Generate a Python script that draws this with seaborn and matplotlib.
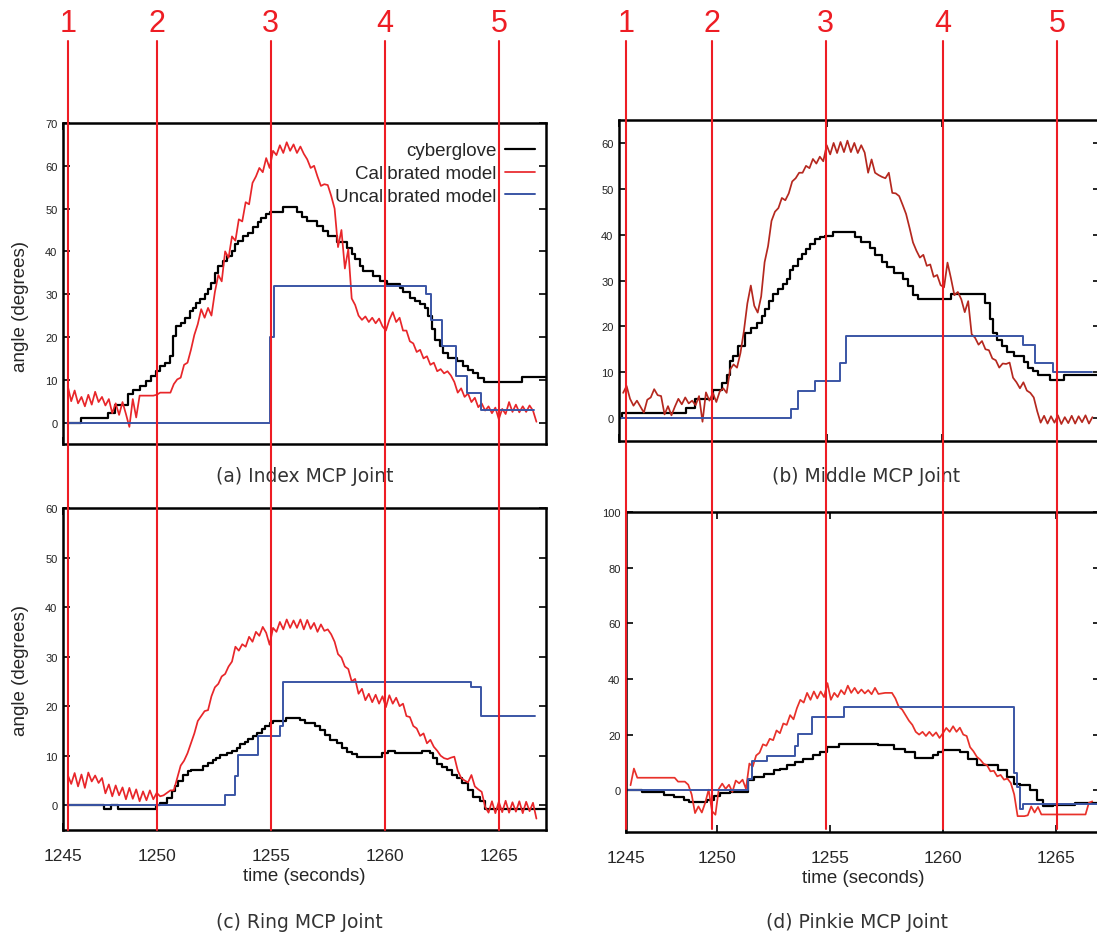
import numpy as np
import matplotlib
matplotlib.use("Agg")
import matplotlib.pyplot as plt
import seaborn as sns
from matplotlib.lines import Line2D
from matplotlib.transforms import blended_transform_factory

# ---------------- data ----------------
series_names = ["cyberglove", "Calibrated model", "Uncalibrated model"]
panel_titles = ["(a) Index MCP Joint", "(b) Middle MCP Joint",
                "(c) Ring MCP Joint", "(d) Pinkie MCP Joint"]
time_tick_labels = ["1245", "1250", "1255", "1260", "1265"]
time_ticks_inner = [1250, 1255, 1260, 1265]
event_labels = ["1", "2", "3", "4", "5"]
events_left = [1246.1, 1250.0, 1255.0, 1260.0, 1265.0]
events_right = [1246.27, 1250.0, 1254.95, 1260.04, 1265.02]
calib_step = 0.15  # sampling interval of the calibrated model traces (s)

# (a) Index
a_glove_t = [1246.07, 1246.70, 1247.86, 1248.16, 1248.74, 1248.96, 1249.25, 1249.55, 1249.77, 1249.99,
             1250.13, 1250.35, 1250.57, 1250.72, 1250.86, 1251.08, 1251.23, 1251.45, 1251.60, 1251.74,
             1251.89, 1252.11, 1252.25, 1252.40, 1252.55, 1252.69, 1252.91, 1253.06, 1253.28, 1253.42,
             1253.57, 1253.79, 1254.01, 1254.23, 1254.45, 1254.59, 1254.81, 1254.96, 1255.54, 1256.13,
             1256.35, 1256.57, 1257.01, 1257.30, 1257.52, 1257.89, 1258.33, 1258.55, 1258.69, 1258.91,
             1259.06, 1259.50, 1259.79, 1260.08, 1260.67, 1260.82, 1261.11, 1261.33, 1261.55, 1261.77,
             1261.91, 1262.06, 1262.20, 1262.42, 1262.57, 1262.79, 1263.16, 1263.45, 1263.67, 1263.89,
             1264.11, 1264.33, 1266.01, 1267.07]
a_glove_v = [0, 1.0, 2.3, 4.2, 6.6, 7.6, 8.5, 9.7, 10.8, 12.0,
             13.2, 14.0, 15.5, 20.2, 22.5, 23.3, 24.5, 26.1, 26.8, 28.0,
             28.8, 30.0, 31.1, 32.7, 35.0, 36.6, 37.8, 38.9, 40.1, 41.7,
             42.5, 43.6, 44.4, 45.6, 46.8, 47.9, 48.7, 49.2, 50.3, 49.2,
             48.0, 47.1, 46.0, 44.8, 43.6, 42.1, 40.9, 39.3, 38.2, 36.6,
             35.4, 34.3, 33.2, 32.3, 31.5, 30.4, 29.2, 28.4, 27.6, 26.8,
             24.9, 21.8, 19.4, 17.9, 16.3, 15.1, 14.4, 13.2, 12.4, 11.6,
             10.5, 9.5, 10.6, 10.6]
a_calib_t0 = 1246.10
a_calib_v = [8.5, 5.0, 7.5, 4.5, 6.0, 3.8, 6.5, 4.2, 7.2, 4.8,
             6.0, 4.0, 5.5, 2.2, 4.5, 1.8, 4.8, 2.0, -1.0, 5.5,
             1.2, 6.3, 6.3, 6.3, 6.3, 6.3, 6.5, 7.0, 7.0, 7.0,
             7.0, 9.0, 10.1, 10.5, 13.5, 14.0, 17.0, 20.5, 23.0, 26.5,
             24.5, 26.8, 25.0, 30.5, 34.5, 33.0, 40.0, 38.5, 43.5, 42.5,
             47.5, 47.0, 51.5, 51.0, 56.0, 57.5, 59.5, 58.5, 61.8, 59.5,
             63.5, 62.5, 64.8, 63.0, 65.5, 63.5, 65.0, 63.0, 64.5, 62.8,
             61.5, 59.5, 60.0, 57.5, 55.3, 55.7, 55.5, 53.0, 50.0, 41.0,
             45.0, 36.0, 40.5, 29.0, 27.5, 25.0, 24.0, 24.8, 23.5, 24.5,
             23.2, 24.3, 22.5, 21.5, 24.0, 25.8, 23.5, 24.5, 21.5, 21.5,
             19.0, 18.5, 16.5, 17.0, 15.0, 15.5, 13.5, 14.0, 12.0, 12.5,
             11.5, 12.0, 11.0, 9.5, 7.0, 8.0, 6.0, 6.8, 4.8, 5.8,
             3.6, 4.5, 2.8, 3.8, 2.2, 3.5, 0.8, 3.2, 2.0, 4.8,
             2.5, 4.2, 2.4, 3.8, 2.5, 4.0, 2.8, 0.2]
a_uncal_t = [1246.07, 1254.96, 1255.15, 1261.79, 1262.03, 1262.50, 1263.12, 1263.59, 1264.22, 1266.56]
a_uncal_v = [0, 20, 32, 30, 24, 18, 11, 7, 3, 3]

# (b) Middle
b_glove_t = [1245.97, 1246.08, 1248.90, 1249.27, 1250.07, 1250.43, 1250.65, 1250.79, 1250.93, 1251.15,
             1251.44, 1251.73, 1251.95, 1252.17, 1252.31, 1252.49, 1252.68, 1252.89, 1253.11, 1253.26,
             1253.40, 1253.55, 1253.76, 1253.91, 1254.12, 1254.27, 1254.49, 1254.70, 1254.92, 1255.28,
             1256.21, 1256.48, 1256.88, 1257.10, 1257.40, 1257.63, 1257.92, 1258.30, 1258.52, 1258.74,
             1258.97, 1260.40, 1261.87, 1262.09, 1262.24, 1262.39, 1262.61, 1262.83, 1263.13, 1263.58,
             1263.73, 1263.96, 1264.18, 1264.70, 1265.30, 1266.88]
b_glove_v = [0, 1.1, 2.2, 4.2, 6.2, 7.6, 9.4, 12.4, 13.6, 15.7,
             18.6, 19.7, 20.8, 22.3, 23.7, 25.5, 27.0, 28.1, 29.2, 30.3,
             32.2, 33.2, 34.7, 35.7, 36.8, 37.9, 39.0, 39.4, 39.7, 40.5,
             39.5, 38.5, 37.1, 35.5, 34.0, 33.0, 31.6, 30.3, 28.7, 26.8,
             25.9, 27.0, 25.0, 21.5, 18.5, 17.0, 15.7, 14.5, 13.5, 12.2,
             11.0, 10.2, 9.4, 8.4, 9.4, 9.4]
b_calib_t0 = 1246.15
b_calib_v = [5.5, 7.0, 4.2, 2.7, 3.8, 2.5, 1.2, 4.0, 4.5, 6.3,
             5.0, 4.8, 0.8, 2.6, 0.6, 2.5, 4.2, 3.0, 4.5, 3.2,
             3.8, 2.8, 4.8, -0.8, 5.6, 3.8, 5.5, 3.5, 5.8, 6.5,
             5.5, 10.6, 11.7, 11.0, 14.2, 19.0, 25.0, 28.9, 24.5, 23.0,
             26.5, 34.0, 37.5, 43.0, 45.0, 45.8, 48.0, 47.5, 49.0, 51.6,
             52.3, 53.5, 53.5, 55.0, 54.5, 56.5, 55.5, 57.0, 56.0, 59.5,
             57.5, 60.0, 57.8, 60.2, 58.0, 60.5, 58.0, 60.0, 57.8, 59.5,
             57.9, 53.5, 56.4, 53.5, 53.0, 52.6, 52.3, 53.5, 49.1, 49.0,
             48.4, 46.5, 44.5, 41.5, 38.3, 36.5, 35.0, 35.6, 33.2, 33.5,
             30.8, 31.2, 29.0, 28.5, 33.9, 30.5, 26.8, 27.5, 25.9, 23.1,
             25.5, 18.3, 17.5, 16.0, 16.8, 15.0, 14.8, 13.0, 12.6, 11.0,
             11.9, 11.8, 12.1, 8.8, 7.8, 6.5, 7.8, 6.0, 5.5, 4.5,
             1.5, -1.0, 0.5, -1.2, 0.4, -1.0, 0.6, -1.3, 0.2, -1.1,
             0.5, -1.2, 0.4, -0.9, 0.6, -1.2, 0.2]
b_uncal_t = [1245.97, 1253.45, 1253.75, 1254.50, 1255.58, 1255.85, 1263.54, 1264.07, 1264.82, 1266.53]
b_uncal_v = [0, 2, 6, 8, 12, 18, 16, 12, 10, 10]

# (c) Ring
c_glove_t = [1246.07, 1247.70, 1248.00, 1248.30, 1249.99, 1250.13, 1250.43, 1250.65, 1250.79, 1250.94,
             1251.16, 1251.38, 1251.52, 1252.03, 1252.25, 1252.47, 1252.62, 1252.76, 1253.06, 1253.28,
             1253.50, 1253.64, 1253.86, 1254.01, 1254.23, 1254.38, 1254.60, 1254.74, 1254.96, 1255.11,
             1255.69, 1256.28, 1256.50, 1256.94, 1257.16, 1257.37, 1257.59, 1257.89, 1258.11, 1258.33,
             1258.55, 1258.77, 1259.86, 1260.16, 1260.45, 1261.62, 1261.98, 1262.13, 1262.28, 1262.49,
             1262.71, 1262.93, 1263.15, 1263.37, 1263.66, 1263.89, 1264.18, 1264.40, 1267.07]
c_glove_v = [0, -0.7, 0, -0.7, 0, 0.5, 1.5, 2.8, 3.8, 4.8,
             6.2, 6.9, 7.2, 8.0, 8.6, 9.2, 9.6, 10.1, 10.6, 10.9,
             11.6, 12.3, 12.8, 13.3, 13.9, 14.6, 15.3, 16.0, 16.6, 17.0,
             17.7, 17.2, 16.6, 15.9, 15.2, 14.2, 13.2, 12.5, 11.5, 10.8,
             10.3, 9.8, 10.5, 11.0, 10.5, 11.0, 10.5, 9.5, 8.4, 7.8,
             7.1, 6.1, 5.4, 4.4, 3.0, 1.6, 0.9, -0.7, -0.7]
c_calib_t0 = 1246.10
c_calib_v = [6.1, 4.3, 6.5, 3.8, 6.2, 3.5, 6.6, 4.8, 6.0, 4.5,
             5.5, 2.4, 4.2, 1.8, 4.0, 2.0, 3.6, 1.2, 3.5, 1.3,
             3.2, 0.8, 2.8, 1.0, 3.0, 1.2, 2.5, 1.8, 2.0, 2.5,
             3.0, 3.0, 5.5, 8.0, 9.0, 10.5, 12.5, 14.5, 17.0, 18.0,
             19.0, 19.2, 22.0, 23.8, 24.5, 26.0, 26.5, 28.0, 29.0, 32.0,
             31.2, 32.5, 32.0, 34.0, 33.0, 35.0, 34.2, 36.0, 34.8, 32.4,
             35.8, 35.0, 37.0, 35.5, 37.5, 35.8, 37.3, 35.8, 37.5, 35.5,
             37.4, 35.6, 36.8, 35.0, 36.5, 35.2, 35.5, 34.5, 33.0, 30.5,
             29.8, 28.0, 27.5, 25.0, 25.5, 22.5, 23.5, 21.2, 22.5, 20.8,
             22.3, 20.5, 22.0, 19.8, 22.2, 20.5, 21.7, 20.0, 20.5, 18.0,
             17.8, 16.0, 15.5, 14.0, 14.5, 12.5, 13.2, 11.8, 11.0, 10.0,
             9.5, 9.3, 9.6, 9.8, 7.0, 5.5, 5.0, 4.6, 6.1, 3.8,
             3.2, 2.7, -0.3, -1.5, 0.8, -1.6, 0.7, -1.4, 0.9, -1.5,
             0.6, -1.3, 0.8, -1.6, 0.7, -1.2, 0.5, -2.7]
c_uncal_t = [1246.07, 1252.99, 1253.43, 1253.57, 1254.44, 1255.40, 1255.55, 1263.80, 1264.22, 1266.60]
c_uncal_v = [0, 2.0, 5.8, 10.1, 13.9, 16.0, 24.9, 23.9, 18.0, 18.0]

# (d) Pinkie
d_glove_t = [1246.00, 1246.70, 1247.66, 1248.10, 1248.55, 1248.77, 1249.58, 1249.87, 1250.16, 1250.60,
             1251.41, 1251.64, 1252.08, 1252.52, 1252.81, 1253.11, 1253.47, 1253.84, 1254.28, 1254.58,
             1254.87, 1255.39, 1257.15, 1257.82, 1258.33, 1258.77, 1259.58, 1259.80, 1260.02, 1260.76,
             1261.13, 1261.49, 1262.45, 1262.82, 1263.12, 1263.41, 1263.85, 1264.15, 1264.44, 1264.88,
             1265.84, 1266.94]
d_glove_v = [0, -0.8, -1.6, -2.4, -3.4, -4.3, -3.4, -2.2, -1.0, -0.5,
             3.6, 4.8, 6.0, 7.2, 7.8, 9.0, 10.2, 11.4, 12.6, 13.8,
             15.6, 16.8, 16.2, 15.0, 13.6, 11.7, 12.5, 13.8, 14.4, 13.6,
             11.4, 9.0, 7.2, 4.8, 2.4, 1.8, 0.0, -3.4, -5.8, -5.2,
             -4.6, -4.6]
d_calib_t0 = 1246.20
d_calib_v = [1.8, 7.8, 4.5, 4.5, 4.5, 4.5, 4.5, 4.5, 4.5, 4.5,
             4.5, 4.5, 4.5, 4.5, 3.1, 3.1, 3.1, 2.0, -1.5, -8.2,
             -5.8, -8.0, -4.5, 0.2, -7.5, -8.8, 0.5, 2.4, 0.5, 2.0,
             -0.6, 3.5, 2.5, 3.8, 0.5, 9.6, 8.5, 12.5, 13.5, 16.5,
             16.0, 18.5, 18.0, 21.5, 20.5, 24.0, 23.5, 27.0, 25.5, 29.5,
             32.5, 31.5, 35.0, 32.5, 35.5, 33.0, 35.5, 33.5, 38.5, 32.5,
             35.0, 33.5, 36.0, 34.5, 37.6, 35.0, 36.8, 34.8, 36.2, 34.8,
             36.0, 34.5, 36.8, 34.6, 34.8, 35.0, 35.0, 35.0, 33.0, 30.0,
             29.0, 27.0, 25.0, 23.5, 21.0, 20.0, 21.0, 19.5, 21.0, 19.5,
             20.8, 18.8, 20.5, 22.4, 21.0, 23.0, 21.0, 22.5, 20.0, 19.5,
             15.5, 14.0, 12.0, 11.0, 9.5, 9.0, 6.8, 7.0, 5.0, 5.5,
             3.8, 4.2, 2.6, -1.5, -9.3, -9.3, -9.3, -9.0, -5.8, -8.0,
             -6.0, -8.7, -8.7, -8.7, -8.7, -8.7, -8.7, -8.7, -8.7, -8.7,
             -8.7, -8.7, -8.7, -8.7, -8.7, -4.5, -4.0]
d_uncal_t = [1246.00, 1251.41, 1251.56, 1252.23, 1253.47, 1253.62, 1254.21, 1255.61, 1263.12, 1263.27,
             1263.40, 1263.56, 1266.94]
d_uncal_v = [0, 4.0, 10.4, 12.2, 15.8, 20.2, 26.2, 30.1, 6.3, 1.0, -6.6, -4.8, -4.8]

# ---------------- style ----------------
sns.set_theme(style="ticks")
plt.rcParams["font.family"] = ["Liberation Sans", "DejaVu Sans"]
plt.rcParams["axes.linewidth"] = 1.8

RED_EVENT = "#ee1d24"
BLUE = "#3a55a5"
W, H = 1097, 937

fig = plt.figure(figsize=(W / 100, H / 100), dpi=100)


def rect(l, t, r, b):
    return [l / W, 1 - b / H, (r - l) / W, (b - t) / H]


ax_a = fig.add_axes(rect(63, 124, 546, 445))
ax_b = fig.add_axes(rect(619, 121, 1100, 442))
ax_c = fig.add_axes(rect(63, 509, 546, 831))
ax_d = fig.add_axes(rect(626, 513, 1100, 833))

panels = [
    (ax_a, a_glove_t, a_glove_v, a_calib_t0, a_calib_v, a_uncal_t, a_uncal_v, "#e8262a",
     (1245.89, 1267.07), (-5, 70), list(range(0, 71, 10)), False, True),
    (ax_b, b_glove_t, b_glove_v, b_calib_t0, b_calib_v, b_uncal_t, b_uncal_v, "#b5281f",
     (1245.97, 1266.88), (-5, 65), list(range(0, 61, 10)), False, False),
    (ax_c, c_glove_t, c_glove_v, c_calib_t0, c_calib_v, c_uncal_t, c_uncal_v, "#e8262a",
     (1245.89, 1267.07), (-5, 60), list(range(0, 61, 10)), True, True),
    (ax_d, d_glove_t, d_glove_v, d_calib_t0, d_calib_v, d_uncal_t, d_uncal_v, "#e8312a",
     (1246.00, 1266.94), (-15, 100), list(range(0, 101, 20)), True, False),
]

for (ax, gt, gv, ct0, cv, ut, uv, ccol, xl, yl, yt, show_x, show_ylab) in panels:
    ct = ct0 + calib_step * np.arange(len(cv))
    sns.lineplot(x=gt, y=gv, ax=ax, color="black", lw=1.6, drawstyle="steps-post",
                 estimator=None, sort=False, legend=False, label=series_names[0])
    sns.lineplot(x=ct, y=cv, ax=ax, color=ccol, lw=1.25,
                 estimator=None, sort=False, legend=False, label=series_names[1])
    sns.lineplot(x=ut, y=uv, ax=ax, color=BLUE, lw=1.4, drawstyle="steps-post",
                 estimator=None, sort=False, legend=False, label=series_names[2])
    ax.set_xlim(*xl)
    ax.set_ylim(*yl)
    ax.set_yticks(yt)
    ax.set_yticklabels([str(v) for v in yt])
    ax.set_xticks([xl[0]] + time_ticks_inner)
    ax.set_xticklabels(time_tick_labels)
    ax.tick_params(axis="y", direction="in", left=True, right=True, length=5, width=1.4,
                   labelsize=8, labelcolor="#222222", pad=4)
    ax.tick_params(axis="x", direction="in", top=True, bottom=True, length=5, width=1.4,
                   labelsize=12.5, pad=13, labelbottom=show_x)
    for s in ax.spines.values():
        s.set_color("black")
        s.set_linewidth(1.8)
        s.set_visible(True)
    ax.set_xlabel("time (seconds)" if show_x else "", fontsize=13.5, labelpad=3)
    ax.set_ylabel("angle (degrees)" if show_ylab else "", fontsize=13.5)
    ax.set_facecolor("white")

ax_a.yaxis.set_label_coords(-0.07, 0.433)
ax_c.yaxis.set_label_coords(-0.07, 0.5)

leg = ax_a.legend(loc="upper right", bbox_to_anchor=(0.977, 0.94), frameon=False,
                  markerfirst=False, fontsize=13.5, handlelength=1.6, handletextpad=0.45,
                  labelspacing=0.3, borderpad=0, borderaxespad=0)

# captions
cap_pos = [(305, 477), (866, 477), (299, 923), (857, 923)]
for txt, (cx, cy) in zip(panel_titles, cap_pos):
    fig.text(cx / W, 1 - cy / H, txt, ha="center", va="center", fontsize=13.5,
             color="#333333", family="DejaVu Sans")

# event markers (red vertical lines with numbers)
for ax, evs, ybot in [(ax_a, events_left, 831), (ax_b, events_right, 830)]:
    tr = blended_transform_factory(ax.transData, fig.transFigure)
    for lab, ev in zip(event_labels, evs):
        fig.add_artist(Line2D([ev, ev], [1 - 42 / H, 1 - ybot / H], transform=tr,
                              color=RED_EVENT, lw=1.5, zorder=20))
        fig.text(ev, 1 - 24 / H, lab, transform=tr, ha="center", va="center",
                 color=RED_EVENT, fontsize=22, zorder=21,
                 family=["Liberation Sans Narrow", "Liberation Sans"])

fig.savefig("out.png", dpi=100, facecolor="white")
